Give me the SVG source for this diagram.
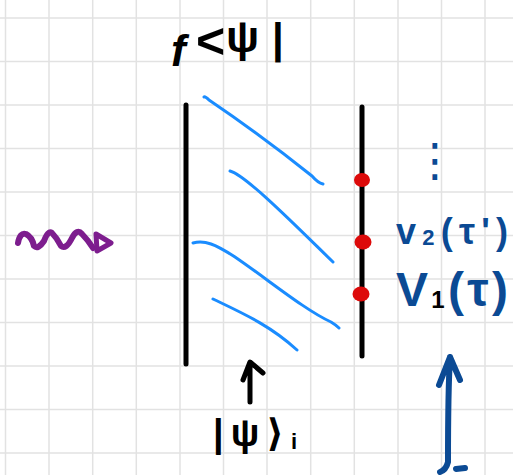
<svg xmlns="http://www.w3.org/2000/svg" width="513" height="475" viewBox="0 0 513 475">
<style>
.grid line{stroke:#e2e2e2;stroke-width:1.5}
.ink{fill:none;stroke-linecap:round;stroke-linejoin:round}
.blk{stroke:#000;stroke-width:5}
.blu{stroke:#1a8cff;stroke-width:3}
.dblu{stroke:#0b4a94;stroke-width:6}
.t{font-family:"Liberation Sans","DejaVu Sans",sans-serif;font-weight:bold}
</style>
<rect width="513" height="475" fill="#fff"/>
<g class="grid">
<line x1="5.5" y1="0" x2="5.5" y2="475"/><line x1="49" y1="0" x2="49" y2="475"/><line x1="92.7" y1="0" x2="92.7" y2="475"/><line x1="136.3" y1="0" x2="136.3" y2="475"/><line x1="180" y1="0" x2="180" y2="475"/><line x1="223.5" y1="0" x2="223.5" y2="475"/><line x1="267" y1="0" x2="267" y2="475"/><line x1="310.7" y1="0" x2="310.7" y2="475"/><line x1="354.3" y1="0" x2="354.3" y2="475"/><line x1="398" y1="0" x2="398" y2="475"/><line x1="441.5" y1="0" x2="441.5" y2="475"/><line x1="485" y1="0" x2="485" y2="475"/>
<line x1="0" y1="18" x2="513" y2="18"/><line x1="0" y1="61.5" x2="513" y2="61.5"/><line x1="0" y1="105" x2="513" y2="105"/><line x1="0" y1="148.5" x2="513" y2="148.5"/><line x1="0" y1="192" x2="513" y2="192"/><line x1="0" y1="235.5" x2="513" y2="235.5"/><line x1="0" y1="279" x2="513" y2="279"/><line x1="0" y1="322.5" x2="513" y2="322.5"/><line x1="0" y1="366" x2="513" y2="366"/><line x1="0" y1="409.5" x2="513" y2="409.5"/><line x1="0" y1="453" x2="513" y2="453"/>
</g>
<g id="bra">
<text class="t" x="171" y="66" font-size="44" font-style="italic">f</text>
<text class="t" x="196" y="58" font-size="50">&lt;</text>
<text class="t" x="226" y="52" font-size="44">ψ</text>
<text class="t" x="272" y="53" font-size="42">|</text>
</g>
<g id="left-wall"><line class="ink blk" x1="186" y1="105" x2="186" y2="364"/></g>
<g id="right-wall"><line class="ink blk" x1="362" y1="107" x2="362" y2="356"/></g>
<g id="points" fill="#dd0a0a">
<ellipse cx="362" cy="180" rx="8" ry="7"/>
<ellipse cx="363" cy="242" rx="8.5" ry="7.5"/>
<ellipse cx="361" cy="294" rx="8.5" ry="7.5"/>
</g>
<g id="connectors">
<path class="ink blu" d="M204,97 Q205,96 209,100 C240,121 282,152 312,176 Q318,183 323,184"/>
<path class="ink blu" d="M230,171 C246,175 300,230 333,262"/>
<path class="ink blu" d="M193,243 C205,240 215,244 235,257 C270,281 305,310 331,322 Q336,325 339,328"/>
<path class="ink blu" d="M213,299 C240,312 270,325 297,350"/>
<path fill="none" stroke="#7d1d8e" stroke-width="6" stroke-linecap="round" stroke-linejoin="round" d="M18,243 Q20,232 26,234 Q32,237 34,246 Q38,250 44,241 Q48,230 52,233 Q57,238 61,246 Q66,250 72,238 Q77,228 82,234 Q88,240 93,248"/>
<path fill="none" stroke="#7d1d8e" stroke-width="5" stroke-linejoin="round" d="M96,234 L111,243 L97,251 Z"/>
<path class="ink blk" stroke-width="4.5" d="M250,402 L250,363 M243,380 L250,362 L263,373"/>
<path class="ink dblu" stroke-width="7" d="M450,357 C448,390 448,430 448,462 Q446,470 440,472 M439,385 L450,357 L460,380"/>
<path class="ink dblu" stroke-width="2" d="M456,469 L465,468"/>
</g>
<g id="ket">
<text class="t" x="213" y="446" font-size="38" textLength="84" lengthAdjust="spacing">|ψ⟩<tspan font-size="22" dy="3">i</tspan></text>
</g>
<g id="labels" fill="#0b4a94">
<text x="412" y="176" font-size="46" font-family="DejaVu Sans, sans-serif" fill="#0b4a94">⋮</text>
<text class="t" x="396" y="244" font-size="36" fill="#0b4a94" textLength="112" lengthAdjust="spacing">v<tspan font-size="22" dy="1">2</tspan><tspan dy="-1">(τ')</tspan></text>
<text class="t" x="396" y="306" font-size="48" fill="#0b4a94" textLength="112" lengthAdjust="spacing">V<tspan font-size="24" fill="#000" dy="2">1</tspan><tspan dy="-2">(τ)</tspan></text>
</g>
</svg>
